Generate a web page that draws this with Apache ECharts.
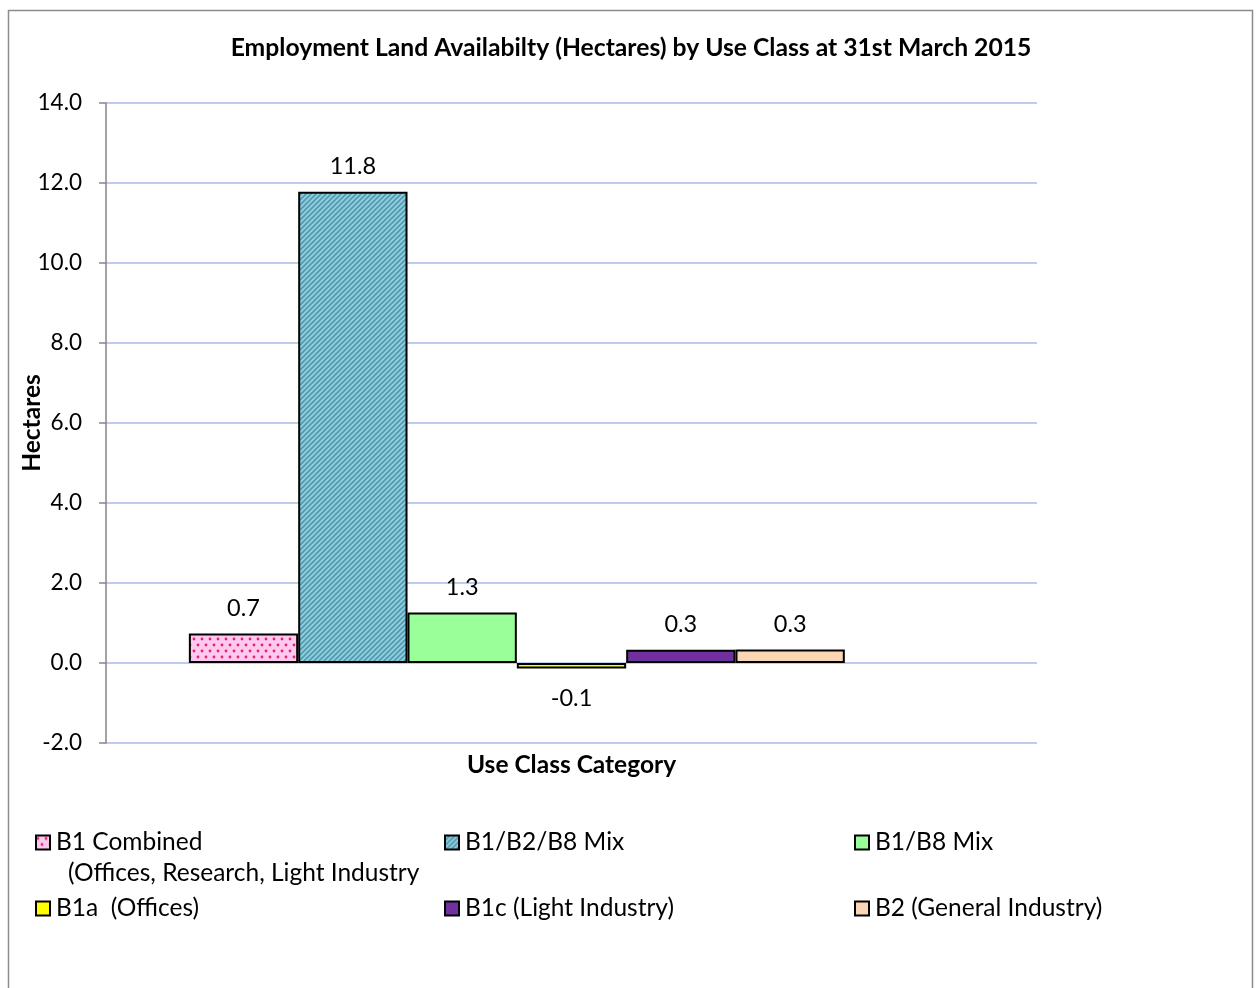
<!DOCTYPE html>
<html>
<head>
<meta charset="utf-8">
<script src="https://cdn.jsdelivr.net/npm/echarts@6/dist/echarts.min.js"></script>
<style>
html,body{margin:0;padding:0;background:#fff;}
#chart{width:1256px;height:988px;}
</style>
</head>
<body>
<div id="chart"></div>
<script>
// ---- data ----
const categories = ['Use Class Category'];
const seriesNames = [
  'B1 Combined',
  'B1/B2/B8 Mix',
  'B1/B8 Mix',
  'B1a  (Offices)',
  'B1c (Light Industry)',
  'B2 (General Industry)',
  'B8'
];
const seriesValues = [0.74, 11.78, 1.26, -0.14, 0.33, 0.34, null];
const yTicks = { min: -2, max: 14, interval: 2 };
const titleText = 'Employment Land Availabilty (Hectares) by Use Class at 31st March 2015';
const b1Note = '(Offices, Research, Light Industry';

// ---- patterns ----
function dotPattern() {
  const c = document.createElement('canvas');
  c.width = 8; c.height = 12;
  const g = c.getContext('2d');
  g.fillStyle = '#FFC8F4'; g.fillRect(0, 0, 8, 12);
  g.fillStyle = '#E22A55';
  [[2, 3], [6, 9]].forEach(p => { g.beginPath(); g.arc(p[0], p[1], 1.4, 0, Math.PI * 2); g.fill(); });
  return { image: c, repeat: 'repeat' };
}
function stripePattern() {
  const s = 5;
  const c = document.createElement('canvas');
  c.width = s; c.height = s;
  const g = c.getContext('2d');
  g.fillStyle = '#93CEDD'; g.fillRect(0, 0, s, s);
  g.strokeStyle = '#4F9AB1'; g.lineWidth = 1.6;
  g.beginPath();
  g.moveTo(0, s); g.lineTo(s, 0);
  g.moveTo(-1, 1); g.lineTo(1, -1);
  g.moveTo(s - 1, s + 1); g.lineTo(s + 1, s - 1);
  g.stroke();
  return { image: c, repeat: 'repeat' };
}
const fills = [dotPattern(), stripePattern(), '#9BFF99', '#FFFF00', '#7030A0', '#FCD5B5', '#CCCCCC'];

const FONT = 'Lato';
const chart = echarts.init(document.getElementById('chart'), null, { renderer: 'canvas' });

const series = seriesNames.map((name, i) => ({
  name: name,
  type: 'bar',
  barGap: '0%',
  barCategoryGap: '17.8%',
  data: [seriesValues[i] == null ? null : {
    value: seriesValues[i],
    label: seriesValues[i] < 0 ? { position: 'bottom', distance: 18 } : { position: 'top', distance: 13 }
  }],
  itemStyle: { color: fills[i], borderColor: '#000', borderWidth: 2 },
  label: {
    show: true,
    fontFamily: FONT, fontSize: 23.5, color: '#000',
    formatter: p => Number(p.value).toFixed(1)
  },
  emphasis: { disabled: true },
  animation: false
}));

const legendPos = [
  [35, 830], [444, 830], [854, 830],
  [35, 896], [444, 896], [854, 896]
];
const legends = legendPos.map((p, i) => ({
  data: [seriesNames[i]],
  left: p[0], top: p[1],
  padding: 0,
  icon: 'rect',
  itemWidth: 14, itemHeight: 14,
  selectedMode: false,
  textStyle: { fontFamily: FONT, fontSize: 24.5, color: '#000', padding: [0, 0, 0, 1] }
}));

chart.setOption({
  animation: false,
  backgroundColor: '#fff',
  title: {
    text: titleText,
    left: 626, top: 31, textAlign: 'center',
    textStyle: { fontFamily: FONT, fontWeight: 'bold', fontSize: 24.7, color: '#000' }
  },
  legend: legends,
  grid: { left: 106, right: 219, top: 103, bottom: 245, containLabel: false, outerBoundsMode: 'none' },
  xAxis: {
    type: 'category',
    data: categories,
    name: 'Use Class Category',
    nameLocation: 'middle',
    nameGap: 10,
    nameMoveOverlap: false,
    nameTextStyle: { fontFamily: FONT, fontWeight: 'bold', fontSize: 24.5, color: '#000' },
    axisLine: { show: false },
    axisTick: { show: false },
    axisLabel: { show: false },
    splitLine: { show: false }
  },
  yAxis: {
    type: 'value',
    min: yTicks.min, max: yTicks.max, interval: yTicks.interval,
    name: 'Hectares',
    nameLocation: 'middle',
    nameGap: 61,
    nameMoveOverlap: false,
    nameTextStyle: { fontFamily: FONT, fontWeight: 'bold', fontSize: 24.5, color: '#000' },
    axisLine: { show: true, lineStyle: { color: '#868686', width: 1.5 } },
    axisTick: { show: true, length: 7, lineStyle: { color: '#868686', width: 1.5 } },
    axisLabel: {
      fontFamily: FONT, fontSize: 22.5, color: '#000', margin: 24,
      formatter: v => v.toFixed(1)
    },
    splitLine: { show: true, lineStyle: { color: '#A7BDE6', width: 1.5 } }
  },
  graphic: [
    {
      type: 'rect',
      shape: { x: 8.5, y: 10.5, width: 1244, height: 1000 },
      style: { fill: 'none', stroke: '#8C8C8C', lineWidth: 1.5 },
      silent: true, z: -1
    },
    {
      type: 'text',
      left: 68, top: 861,
      style: { text: b1Note, font: '24.5px Lato', fill: '#000' },
      silent: true
    }
  ],
  series: series
});
</script>
</body>
</html>
